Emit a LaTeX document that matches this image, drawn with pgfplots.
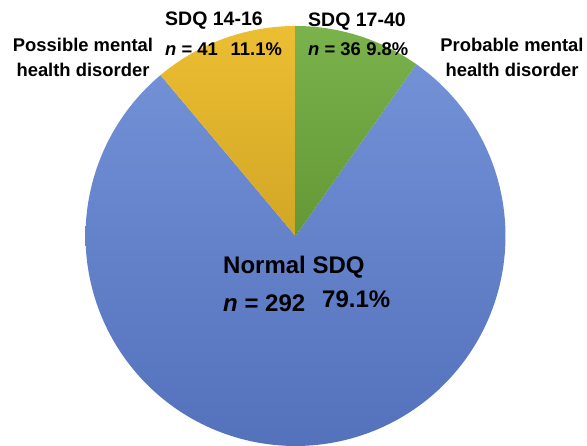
\documentclass[border=0pt]{standalone}
\usepackage{fontspec}
\setmainfont{Liberation Sans}
\usepackage{pgfplots}
\pgfplotsset{compat=1.18}

% SDQ groups: counts
\def\nNormal{292}
\def\nPossible{41}
\def\nProbable{36}
\pgfmathsetmacro\nTotal{\nNormal+\nPossible+\nProbable}
\pgfmathsetmacro\angPossible{360*\nPossible/\nTotal}
\pgfmathsetmacro\angProbable{360*\nProbable/\nTotal}
% slices start at 12 o'clock: probable clockwise, possible counter-clockwise
\pgfmathsetmacro\aTop{90}
\pgfmathsetmacro\aPossEnd{90+\angPossible}
\pgfmathsetmacro\aProbEnd{90-\angProbable}
\pgfmathsetmacro\aNormEnd{450-\angProbable}

\definecolor{blueT}{RGB}{114,145,214}
\definecolor{blueB}{RGB}{84,113,188}
\definecolor{yelT}{RGB}{236,190,50}
\definecolor{yelB}{RGB}{210,166,38}
\definecolor{grnT}{RGB}{122,178,76}
\definecolor{grnB}{RGB}{100,152,54}

\def\cx{295.5}
\def\cy{209}
\def\R{210}

\begin{document}
\begin{tikzpicture}
\begin{axis}[
  x=1pt, y=1pt,
  xmin=0, xmax=587, ymin=0, ymax=445,
  hide axis, clip=false,
  scale only axis,
]
\path (rel axis cs:0,0) rectangle (rel axis cs:1,1);

% Normal SDQ
\addplot[draw=none, top color=blueT, bottom color=blueB,
  domain=\aPossEnd:\aNormEnd, samples=240, variable=\t]
  ({\cx+\R*cos(t)},{\cy+\R*sin(t)}) -- (axis cs:\cx,\cy) -- cycle;
% Possible mental health disorder
\addplot[draw=none, top color=yelT, bottom color=yelB,
  domain=\aTop:\aPossEnd, samples=40, variable=\t]
  ({\cx+\R*cos(t)},{\cy+\R*sin(t)}) -- (axis cs:\cx,\cy) -- cycle;
% Probable mental health disorder
\addplot[draw=none, top color=grnT, bottom color=grnB,
  domain=\aProbEnd:\aTop, samples=40, variable=\t]
  ({\cx+\R*cos(t)},{\cy+\R*sin(t)}) -- (axis cs:\cx,\cy) -- cycle;

\begin{scope}[font=\bfseries\fontsize{19.5}{21}\selectfont, inner sep=0pt]
  \node[anchor=west] at (axis cs:165,424) {SDQ 14-16};
  \node[anchor=west] at (axis cs:308,423) {SDQ 17-40};
\end{scope}
\begin{scope}[font=\bfseries\fontsize{18.4}{19}\selectfont, inner sep=0pt]
  \node[anchor=west] at (axis cs:165,396) {\textit{n} = 41\hspace{0.7em}11.1\%};
  \node[anchor=west] at (axis cs:308,396) {\textit{n} = 36\hspace{0.3em}9.8\%};
  \node[align=center] at (axis cs:83,387.5) {Possible mental\\[6pt]health disorder};
  \node[align=center] at (axis cs:512,387.5) {Probable mental\\[6pt]health disorder};
\end{scope}
\begin{scope}[font=\bfseries\fontsize{24}{28}\selectfont, inner sep=0pt]
  \node[anchor=west] at (axis cs:223,178) {Normal SDQ};
  \node[anchor=west] at (axis cs:223,142) {\textit{n} = 292};
  \node[anchor=west] at (axis cs:322,146) {79.1\%};
\end{scope}
\end{axis}
\end{tikzpicture}
\end{document}
